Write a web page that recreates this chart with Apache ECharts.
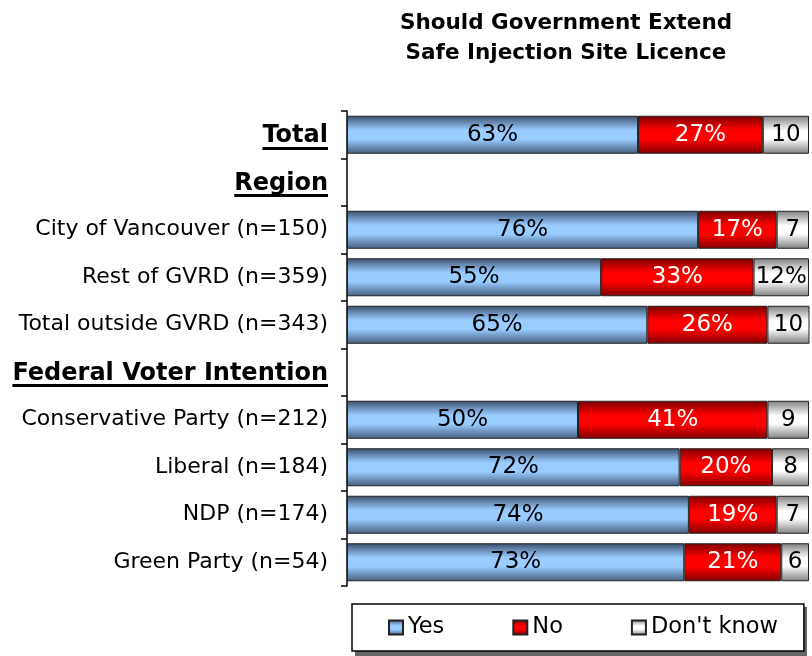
<!DOCTYPE html>
<html>
<head>
<meta charset="utf-8">
<script src="https://cdn.jsdelivr.net/npm/echarts@6/dist/echarts.min.js"></script>
<style>
html,body{margin:0;padding:0;background:#fff;}
#c{width:812px;height:656px;}
</style>
</head>
<body>
<div id="c"></div>
<script>
const categories = ['Total','Region','City of Vancouver (n=150)','Rest of GVRD (n=359)','Total outside GVRD (n=343)','Federal Voter Intention','Conservative Party (n=212)','Liberal (n=184)','NDP (n=174)','Green Party (n=54)'];
const headers = ['Total','Region','Federal Voter Intention'];
const yesValues = [63,'-',76,55,65,'-',50,72,74,73];
const noValues = [27,'-',17,33,26,'-',41,20,19,21];
const dkValues = [10,'-',7,12,10,'-',9,8,7,6];
const dkLabels = ['10','','7','12%','10','','9','8','7','6'];

const blue = {type:'linear',x:0,y:0,x2:0,y2:1,colorStops:[
  {offset:0,color:'#3a4e68'},{offset:0.2,color:'#6f92bd'},{offset:0.38,color:'#99ccff'},{offset:0.62,color:'#99ccff'},{offset:0.85,color:'#6687ae'},{offset:1,color:'#46607f'}]};
const red = {type:'linear',x:0,y:0,x2:0,y2:1,colorStops:[
  {offset:0,color:'#7a0000'},{offset:0.38,color:'#ff0000'},{offset:0.62,color:'#ff0000'},{offset:1,color:'#800000'}]};
const gray = {type:'linear',x:0,y:0,x2:0,y2:1,colorStops:[
  {offset:0,color:'#7f7f7f'},{offset:0.4,color:'#ffffff'},{offset:0.6,color:'#ffffff'},{offset:1,color:'#808080'}]};
const underline = {type:'linear',x:0,y:0,x2:0,y2:1,colorStops:[
  {offset:0,color:'rgba(0,0,0,0)'},{offset:0.89,color:'rgba(0,0,0,0)'},{offset:0.89,color:'#000'},{offset:0.98,color:'#000'},{offset:0.98,color:'rgba(0,0,0,0)'},{offset:1,color:'rgba(0,0,0,0)'}]};

const FONT = 'DejaVu Sans';
const chart = echarts.init(document.getElementById('c'));
const labelBase = {show:true, position:'inside', fontSize:23, fontFamily:FONT};
chart.setOption({
  animation:false,
  textStyle:{fontFamily:FONT},
  title:{
    text:'Should Government Extend\nSafe Injection Site Licence',
    left:561, top:3, textAlign:'center',
    textStyle:{fontSize:21.5, fontWeight:'bold', color:'#000', lineHeight:30, fontFamily:FONT}
  },
  graphic:[{
    type:'rect', left:355, top:607, z:-1,
    shape:{width:452, height:49},
    style:{fill:'#666'}
  }],
  legend:{
    left:352, top:604,
    icon:'rect',
    itemWidth:14, itemHeight:14, itemGap:68,
    padding:[12,26,12,36],
    borderColor:'#000', borderWidth:1.5, backgroundColor:'#fff',
    textStyle:{fontSize:22.5, color:'#000', fontFamily:FONT},
    data:['Yes','No',"Don't know"]
  },
  grid:{left:347, right:3, top:111, bottom:70},
  xAxis:{type:'value', min:0, max:100, show:false},
  yAxis:{
    type:'category', data:categories, inverse:true,
    axisLine:{show:true, lineStyle:{color:'#000', width:1.5}},
    axisTick:{show:true, length:6, lineStyle:{color:'#000', width:1.5}},
    axisLabel:{
      fontSize:22, color:'#000', margin:19, fontFamily:FONT,
      formatter:function(v){ return headers.indexOf(v) >= 0 ? '{h|' + v + '}' : v; },
      rich:{h:{fontSize:24, fontWeight:'bold', color:'#000', fontFamily:FONT, backgroundColor:underline, padding:[5,0,2,0]}}
    }
  },
  series:[
    {name:'Yes', type:'bar', stack:'s', data:yesValues, barWidth:'80%',
     itemStyle:{color:blue, borderColor:'#222', borderWidth:1},
     label:Object.assign({}, labelBase, {color:'#000', formatter:function(p){return p.value + '%';}})},
    {name:'No', type:'bar', stack:'s', data:noValues, barWidth:'80%',
     itemStyle:{color:red, borderColor:'#222', borderWidth:1},
     label:Object.assign({}, labelBase, {color:'#fff', formatter:function(p){return p.value + '%';}})},
    {name:"Don't know", type:'bar', stack:'s', data:dkValues, barWidth:'80%',
     itemStyle:{color:gray, borderColor:'#222', borderWidth:1},
     label:Object.assign({}, labelBase, {color:'#000', formatter:function(p){return dkLabels[p.dataIndex];}})}
  ]
});
</script>
</body>
</html>
